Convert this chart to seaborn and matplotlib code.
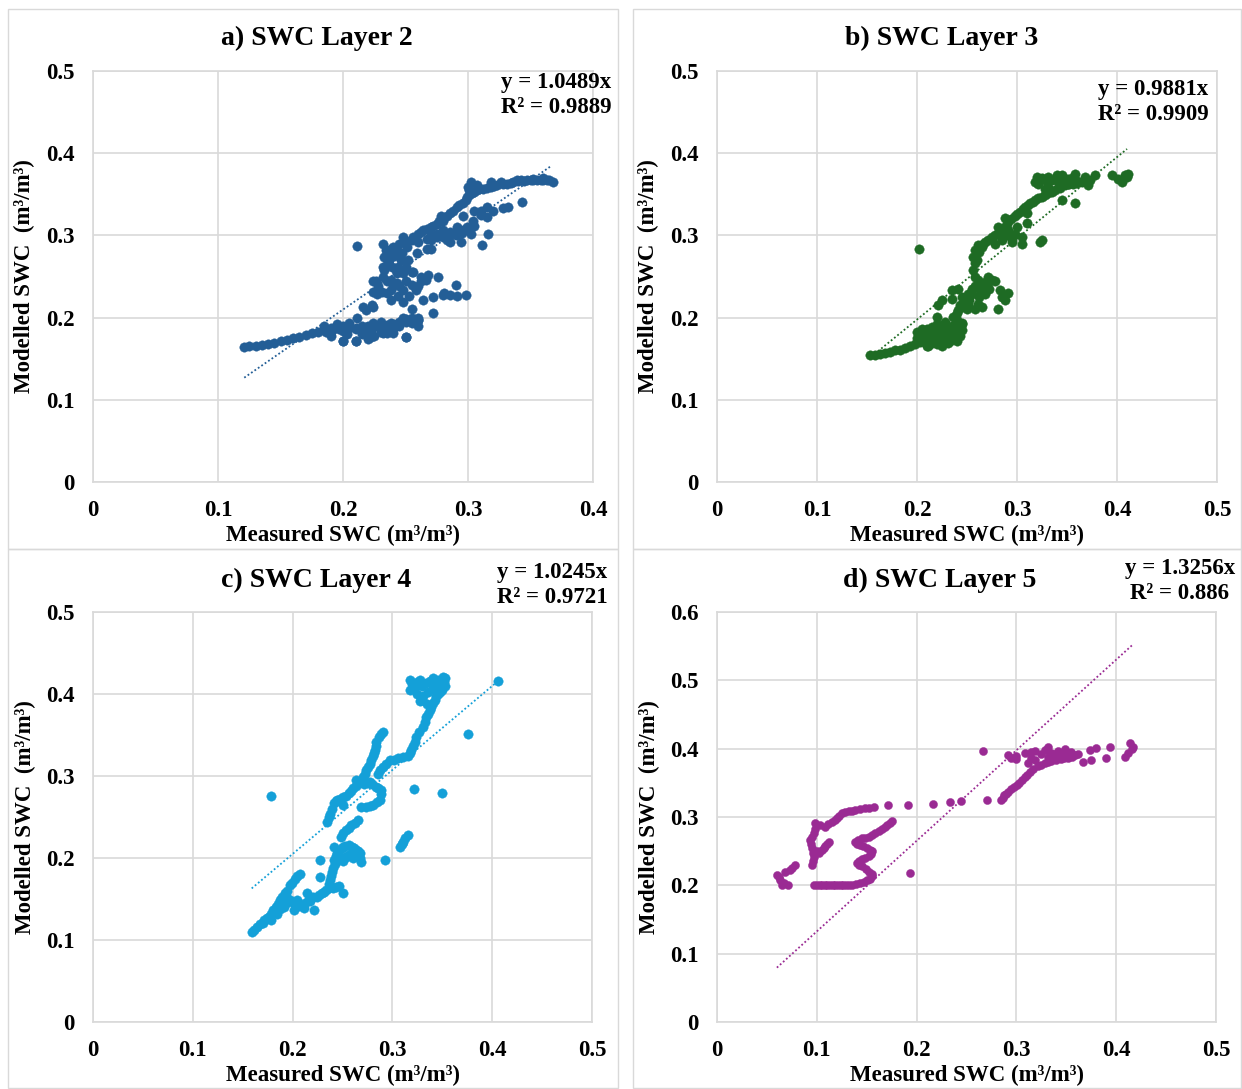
import numpy as np
import pandas as pd
import matplotlib
matplotlib.use("Agg")
import matplotlib.pyplot as plt
from matplotlib.patches import Rectangle
import seaborn as sns

# ---------------- data ----------------
# Panel a) SWC Layer 2
a_x = [.121,.125,.130,.135,.140,.145,.150,.155,.160,.165,.170,.175,.180,.185,.190,.195,.200,.205,.210,.215,.220,.225,.230,.235,.240,.245,.250,.255,.260,
       .185,.190,.195,.200,.205,.190,.200,.210,.215,.225,.220,.230,.235,.240,.250,.245,.255,.260,
       .211,.219,.224,.232,.238,.248,.254,.260,.232,.222,.250,.200,.210,.218,.224,.216,.223,.224,
       .232,.238,.243,.248,.255,.262,.268,.276,.226,.227,.238,.248,.258,.264,.272,.280,.290,.291,.298,.272,.255,.248,.238,.224,.231,
       .232,.235,.232,.236,.246,.248,.240,.251,.256,.247,.243,.256,
       .260,.264,.270,.275,.278,.280,.286,.291,.296,.299,.303,.307,.312,.318,.323,.331,.336,.342,.347,.352,.358,.363,.368,.302,.300,.307,.318,.326,.339,.352,.360,
       .267,.278,.286,.294,.299,.304,.294,.286,.302,.310,.315,.315,.311,.316,.320,.328,.332,.343,.296,.291,.280,.275,.270,.283,.260,.259,.267,.270,.252,
       .211,
       .262,.267,.272,.277,.283,.288,.293,.298,.301,.301,.305,.309,.315,.321,.328,.334,.340,.345,.350,.355,.360,.365,
       .270,.275,.280,.285,.290,.295,.300,.305,.310,.305,
       .235,.240,.245,.250,.255,.260,.235,.228,.233,.237,.240,.243,.245,.250,.255,
       .200,.205,.210,.215,.220,.228,.235,.240,.245,.250,.255,.260,.230,.220,.240,.186,.192,.197,.203,
       .233,.236,.239,.242,.234,.238,.241,.244,.250,.262,.266,.281,.286,.244,.253]
a_y = [.164,.165,.166,.167,.168,.169,.171,.173,.175,.177,.179,.181,.183,.185,.187,.188,.189,.188,.187,.187,.188,.189,.190,.191,.192,.193,.195,.196,.197,
       .190,.182,.192,.184,.193,.178,.172,.172,.180,.178,.174,.183,.181,.186,.176,.190,.200,.190,
       .199,.189,.193,.189,.193,.199,.197,.197,.181,.177,.177,.172,.172,.209,.213,.213,.215,.245,
       .250,.246,.242,.254,.256,.250,.252,.249,.244,.229,.233,.233,.233,.221,.225,.227,.240,.226,.228,.205,.211,.219,.221,.231,.231,
       .290,.278,.262,.266,.270,.298,.286,.286,.298,.278,.254,.256,
       .302,.306,.310,.314,.323,.318,.327,.335,.339,.347,.351,.355,.357,.359,.361,.363,.365,.367,.367,.368,.367,.367,.365,.365,.359,.361,.365,.365,.367,.369,.370,
       .296,.302,.304,.306,.310,.318,.292,.292,.302,.330,.334,.322,.288,.302,.330,.333,.335,.341,.323,.310,.306,.302,.294,.294,.292,.278,.284,.284,.270,
       .287,
       .304,.308,.312,.318,.323,.330,.337,.343,.349,.355,.353,.356,.358,.360,.362,.364,.366,.366,.367,.367,.368,.367,
       .300,.298,.298,.300,.301,.303,.306,.312,.325,.330,
       .245,.240,.238,.245,.240,.238,.230,.238,.258,.270,.278,.282,.290,.293,.295,
       .190,.187,.186,.190,.190,.190,.186,.190,.195,.198,.193,.200,.195,.183,.181,.183,.186,.186,.180,
       .274,.266,.262,.258,.282,.284,.275,.262,.262,.244,.246,.230,.228,.226,.226]

# Panel b) SWC Layer 3
b_x = [.153,.158,.163,.168,.173,.178,.183,.188,.193,.198,.203,.208,.213,.218,.223,.228,.233,.238,.243,.245,
       .200,.205,.210,.215,.220,.225,.210,.215,.220,.225,.230,.235,.240,.228,.235,.225,.210,.240,.215,.220,
       .211,.231,.245,.236,.220,.200,.208,
       .221,.225,.235,.241,.245,.245,.251,.255,.258,.261,.265,.265,.271,.275,.268,.283,.291,.288,.281,.251,.261,.241,.235,
       .258,.256,.258,.256,.258,.261,.265,
       .268,.275,.281,.288,.291,.298,.303,.308,.313,.318,.325,.331,.338,.348,.356,.365,.373,
       .281,.291,.298,.305,.305,.295,.285,.278,.288,.310,.323,.325,.345,.358,
       .320,.321,.323,.331,.335,.345,.351,.358,.345,.331,.328,.351,.368,.378,.371,.395,.401,.405,.408,.411,.410,
       .202,
       .203,.208,.212,.217,.222,.227,.232,.237,.242,.205,.213,.218,.223,.228,.233,.238,.243,.230,.218,.205,.245,.228,.240,
       .240,.243,.248,.252,.255,.260,.263,.268,.270,.250,.258,.262,.272,.278,.285,
       .260,.262,.266,.271,.278,.284,.290,.294,.300,.306,.311,.316,.321,.328,.335,.343,.352,.360,.370,
       .290,.300,.310,.295,
       .325,.330,.340,.342,.348,.355,.360,.318,.340]
b_y = [.154,.155,.156,.157,.158,.160,.161,.163,.165,.168,.170,.172,.174,.176,.178,.180,.183,.186,.190,.193,
       .175,.180,.178,.183,.185,.182,.186,.172,.168,.172,.175,.178,.182,.188,.190,.165,.165,.172,.189,.192,
       .165,.169,.192,.201,.201,.183,.181,
       .215,.221,.233,.235,.225,.213,.229,.229,.238,.246,.238,.213,.250,.246,.229,.234,.230,.222,.211,.217,.217,.209,.223,
       .250,.258,.266,.274,.282,.288,.286,
       .292,.298,.302,.310,.318,.323,.329,.335,.339,.343,.347,.351,.355,.361,.363,.365,.367,
       .310,.306,.302,.298,.290,.292,.294,.290,.321,.327,.292,.294,.343,.339,
       .371,.363,.367,.371,.367,.373,.369,.375,.361,.359,.357,.363,.371,.373,.361,.373,.369,.365,.373,.375,.371,
       .283,
       .176,.182,.180,.178,.176,.178,.180,.184,.186,.172,.168,.170,.174,.170,.172,.176,.178,.185,.188,.186,.185,.195,.197,
       .205,.215,.220,.222,.235,.240,.233,.243,.240,.210,.210,.225,.235,.245,.225,
       .270,.280,.290,.295,.300,.306,.314,.320,.326,.332,.337,.341,.345,.349,.353,.358,.362,.364,.366,
       .300,.310,.315,.296,
       .370,.365,.368,.362,.367,.370,.366,.365,.373]

# Panel c) SWC Layer 4
c_x = [.159,.164,.171,.178,.183,.187,.192,.197,.202,.207,.178,.184,.191,.197,.201,.206,.211,.217,.221,.214,.224,.231,.236,.243,.251,.204,.194,
       .237,.239,.227,.242,.244,.241,.251,.257,.264,.268,.269,.227,.254,.261,.248,.254,.259,.266,
       .293,.308,.311,.316,
       .234,.237,.241,.244,.251,.257,.261,.267,.271,.278,.284,.289,.288,.281,.274,.269,.274,.278,.281,.283,.284,.291,.286,.291,.298,.306,.316,.264,.251,
       .321,.324,.331,.334,.338,.341,.344,.348,.351,.353,
       .318,.318,.323,.328,.328,.334,.341,.346,.351,.336,.341,.331,.344,
       .178,.406,.376,.322,.350,
       .161,.167,.174,.180,.185,.189,.194,.199,.204,.170,.176,.181,.187,.193,.199,.203,.208,.212,.216,.220,.226,.229,.233,.240,.246,
       .236,.238,.240,.241,.243,.246,.249,.253,.260,.262,.266,.268,.247,.250,.255,.258,
       .251,.257,.263,.310,.313,
       .236,.239,.243,.247,.254,.259,.264,.269,.273,.276,.279,.282,.284,.287,.289,
       .272,.276,.280,.286,.289,.285,.278,
       .288,.294,.302,.311,.318,.319,
       .323,.327,.333,.336,.339,.343,.346,.350,.352,
       .320,.325,.330,.338,.343,.348,.350,.353,.325,.330,.335,.322]
c_y = [.110,.116,.124,.132,.140,.149,.157,.167,.175,.181,.124,.132,.140,.149,.137,.143,.139,.147,.137,.157,.153,.159,.163,.165,.157,.149,.151,
       .173,.183,.177,.193,.206,.214,.214,.216,.210,.206,.195,.197,.201,.200,.226,.234,.240,.246,
       .197,.214,.220,.228,
       .244,.254,.267,.271,.265,.279,.285,.291,.299,.293,.287,.283,.271,.265,.262,.262,.307,.315,.324,.332,.342,.354,.303,.311,.319,.322,.325,.295,.275,
       .336,.348,.360,.372,.380,.389,.397,.403,.411,.419,
       .417,.405,.409,.392,.417,.413,.419,.417,.421,.403,.407,.398,.409,
       .276,.416,.351,.284,.279,
       .112,.119,.127,.136,.144,.152,.160,.170,.178,.121,.128,.134,.138,.145,.146,.140,.141,.145,.150,.152,.155,.157,.161,.164,.166,
       .168,.178,.188,.198,.202,.208,.212,.215,.214,.212,.208,.200,.200,.196,.202,.205,
       .230,.237,.243,.217,.224,
       .250,.260,.269,.272,.276,.282,.288,.294,.303,.311,.319,.328,.337,.347,.351,
       .290,.292,.290,.285,.278,.268,.263,
       .307,.315,.320,.323,.328,.332,
       .342,.354,.366,.376,.384,.393,.400,.407,.415,
       .412,.415,.410,.416,.414,.410,.405,.410,.400,.393,.388,.410]

# Panel d) SWC Layer 5
d_x = [.060,.063,.065,.071,.068,.078,.073,
       .097,.103,.108,.113,.118,.124,.129,.135,.143,.150,.155,.152,.145,.140,.145,.152,.155,.150,.143,.138,.145,.152,.158,.165,.170,.175,
       .095,.097,.095,.093,.097,.098,.102,.107,.112,.105,
       .108,.115,.120,.125,.132,.138,.148,.157,.171,.191,.216,.233,.244,.271,
       .193,
       .267,.285,.288,.292,.298,.303,.309,.314,.322,.329,.335,.345,.352,
       .292,.295,.309,.319,.329,.335,.342,.349,.352,.359,.367,.375,.374,.380,.390,.394,.409,.412,.416,.414,.417,.312,.319,.332,.342,.332,
       .100,.105,.110,.116,.121,.126,.132,.139,
       .147,.153,.155,.149,.142,.142,.148,.154,.153,.146,.140,.141,.148,.155,.162,.168,.173,
       .096,.096,.094,.095,.098,.100,.110,.108,
       .062,.067,.075,
       .103,.111,.118,.122,.128,.135,.143,.152,
       .287,.290,.295,.301,.306,.311,.317,.325,.332,.340,.348,.356,
       .300,.315,.325,.338,.345,.355,.362,.300,.315]
d_y = [.215,.208,.200,.200,.220,.230,.223,
       .201,.201,.201,.201,.201,.201,.201,.201,.203,.208,.213,.220,.228,.233,.238,.243,.250,.254,.259,.263,.269,.271,.276,.282,.288,.294,
       .230,.242,.254,.266,.276,.291,.247,.254,.264,.252,
       .286,.293,.298,.306,.309,.310,.313,.314,.317,.318,.319,.322,.323,.325,
       .218,
       .396,.325,.332,.337,.344,.350,.359,.366,.374,.379,.382,.385,.386,
       .391,.386,.393,.397,.398,.393,.396,.399,.393,.391,.381,.384,.398,.401,.386,.403,.388,.393,.400,.408,.403,.379,.383,.388,.388,.403,
       .201,.201,.201,.201,.201,.201,.201,.202,
       .205,.210,.216,.224,.230,.236,.240,.246,.252,.257,.261,.266,.270,.273,.279,.285,.291,
       .236,.248,.260,.271,.283,.250,.260,.258,
       .212,.204,.226,
       .289,.290,.296,.302,.307,.309,.312,.313,
       .328,.334,.341,.347,.354,.362,.370,.376,.381,.384,.386,.388,
       .390,.395,.392,.392,.393,.395,.392,.385,.386]

titles = ["a) SWC Layer 2", "b) SWC Layer 3", "c) SWC Layer 4", "d) SWC Layer 5"]
equations = ["y = 1.0489x\nR\u00b2 = 0.9889", "y = 0.9881x\nR\u00b2 = 0.9909",
             "y = 1.0245x\nR\u00b2 = 0.9721", "y = 1.3256x\nR\u00b2 = 0.886"]
slopes = [1.0489, 0.9881, 1.0245, 1.3256]
trend_x = [[0.121, 0.367], [0.161, 0.410], [0.159, 0.406], [0.060, 0.416]]
x_ticks = [[0, 0.1, 0.2, 0.3, 0.4], [0, 0.1, 0.2, 0.3, 0.4, 0.5],
           [0, 0.1, 0.2, 0.3, 0.4, 0.5], [0, 0.1, 0.2, 0.3, 0.4, 0.5]]
y_ticks = [[0, 0.1, 0.2, 0.3, 0.4, 0.5], [0, 0.1, 0.2, 0.3, 0.4, 0.5],
           [0, 0.1, 0.2, 0.3, 0.4, 0.5], [0, 0.1, 0.2, 0.3, 0.4, 0.5, 0.6]]
colors = ["#235E96", "#1E6B24", "#14A0D8", "#9A2A93"]
xlabel = "Measured SWC (m\u00b3/m\u00b3)"
ylabel = "Modelled SWC  (m\u00b3/m\u00b3)"

# ---------------- style ----------------
sns.set_theme(style="white")
plt.rcParams['font.family'] = ['Liberation Serif', 'DejaVu Serif']
plt.rcParams['font.weight'] = 'bold'
plt.rcParams['axes.labelweight'] = 'bold'
plt.rcParams['text.color'] = 'black'
plt.rcParams['axes.labelcolor'] = 'black'

W, H = 1242, 1089
fig = plt.figure(figsize=(W / 100, H / 100), dpi=100)

def fx(px):
    return px / W

def fy(py):
    return 1 - py / H

boxes = [(93, 71, 593, 482), (717, 71, 1217, 482), (93, 612, 592, 1022), (717, 612, 1216, 1022)]
panels = [(8, 9, 618, 549), (633, 9, 1241, 549), (8, 549, 618, 1088), (633, 549, 1241, 1088)]
title_pos = [(317, 38), (942, 38), (316, 580), (940, 580)]
eq_pos = [(556, 95), (1153, 102), (552, 585), (1180, 581)]

data = [(a_x, a_y), (b_x, b_y), (c_x, c_y), (d_x, d_y)]
grid_c = "#D9D9D9"

for (l, t, r, b) in panels:
    fig.patches.append(Rectangle((fx(l), fy(b)), fx(r) - fx(l), fy(t) - fy(b),
                                 transform=fig.transFigure, fill=False,
                                 edgecolor=grid_c, linewidth=1.0, zorder=0))

for i in range(4):
    l, t, r, b = boxes[i]
    ax = fig.add_axes([fx(l), fy(b), fx(r) - fx(l), fy(t) - fy(b)])
    df = pd.DataFrame({"x": data[i][0], "y": data[i][1]})
    ms = 46 if i < 3 else 34
    sns.scatterplot(data=df, x="x", y="y", ax=ax, color=colors[i], s=ms,
                    edgecolor=colors[i], linewidth=0.3, zorder=3, legend=False)
    tx = np.array(trend_x[i])
    tdf = pd.DataFrame({"x": tx, "y": slopes[i] * tx})
    sns.lineplot(data=tdf, x="x", y="y", ax=ax, color=colors[i], linewidth=1.3,
                 linestyle=(0, (1, 1.3)), zorder=4)
    ax.set_xlim(x_ticks[i][0], x_ticks[i][-1])
    ax.set_ylim(y_ticks[i][0], y_ticks[i][-1])
    ax.set_xticks(x_ticks[i])
    ax.set_xticklabels([("0" if v == 0 else f"{v:g}") for v in x_ticks[i]])
    ax.set_yticks(y_ticks[i])
    ax.set_yticklabels([("0" if v == 0 else f"{v:g}") for v in y_ticks[i]])
    ax.tick_params(axis="both", length=0, labelsize=16.5, pad=13, colors="black")
    for lab in ax.get_xticklabels() + ax.get_yticklabels():
        lab.set_fontweight("bold")
    ax.grid(True, color=grid_c, linewidth=1.2, zorder=0)
    ax.set_axisbelow(True)
    for sp in ax.spines.values():
        sp.set_color(grid_c)
        sp.set_linewidth(1.2)
    ax.set_xlabel(xlabel, fontsize=16.5, fontweight="bold", color="black")
    ax.set_ylabel(ylabel, fontsize=16.5, fontweight="bold", color="black")
    ax.xaxis.set_label_coords(0.5, -0.105)
    ax.yaxis.set_label_coords(-0.115, 0.5)
    fig.text(fx(title_pos[i][0]), fy(title_pos[i][1]), titles[i], ha="center", va="center",
             fontsize=20, fontweight="bold", color="black")
    fig.text(fx(eq_pos[i][0]), fy(eq_pos[i][1]), equations[i], ha="center", va="center",
             multialignment="center", fontsize=16.5, fontweight="bold", linespacing=1.3,
             color="black")

fig.savefig("out.png", dpi=100, facecolor="white")
